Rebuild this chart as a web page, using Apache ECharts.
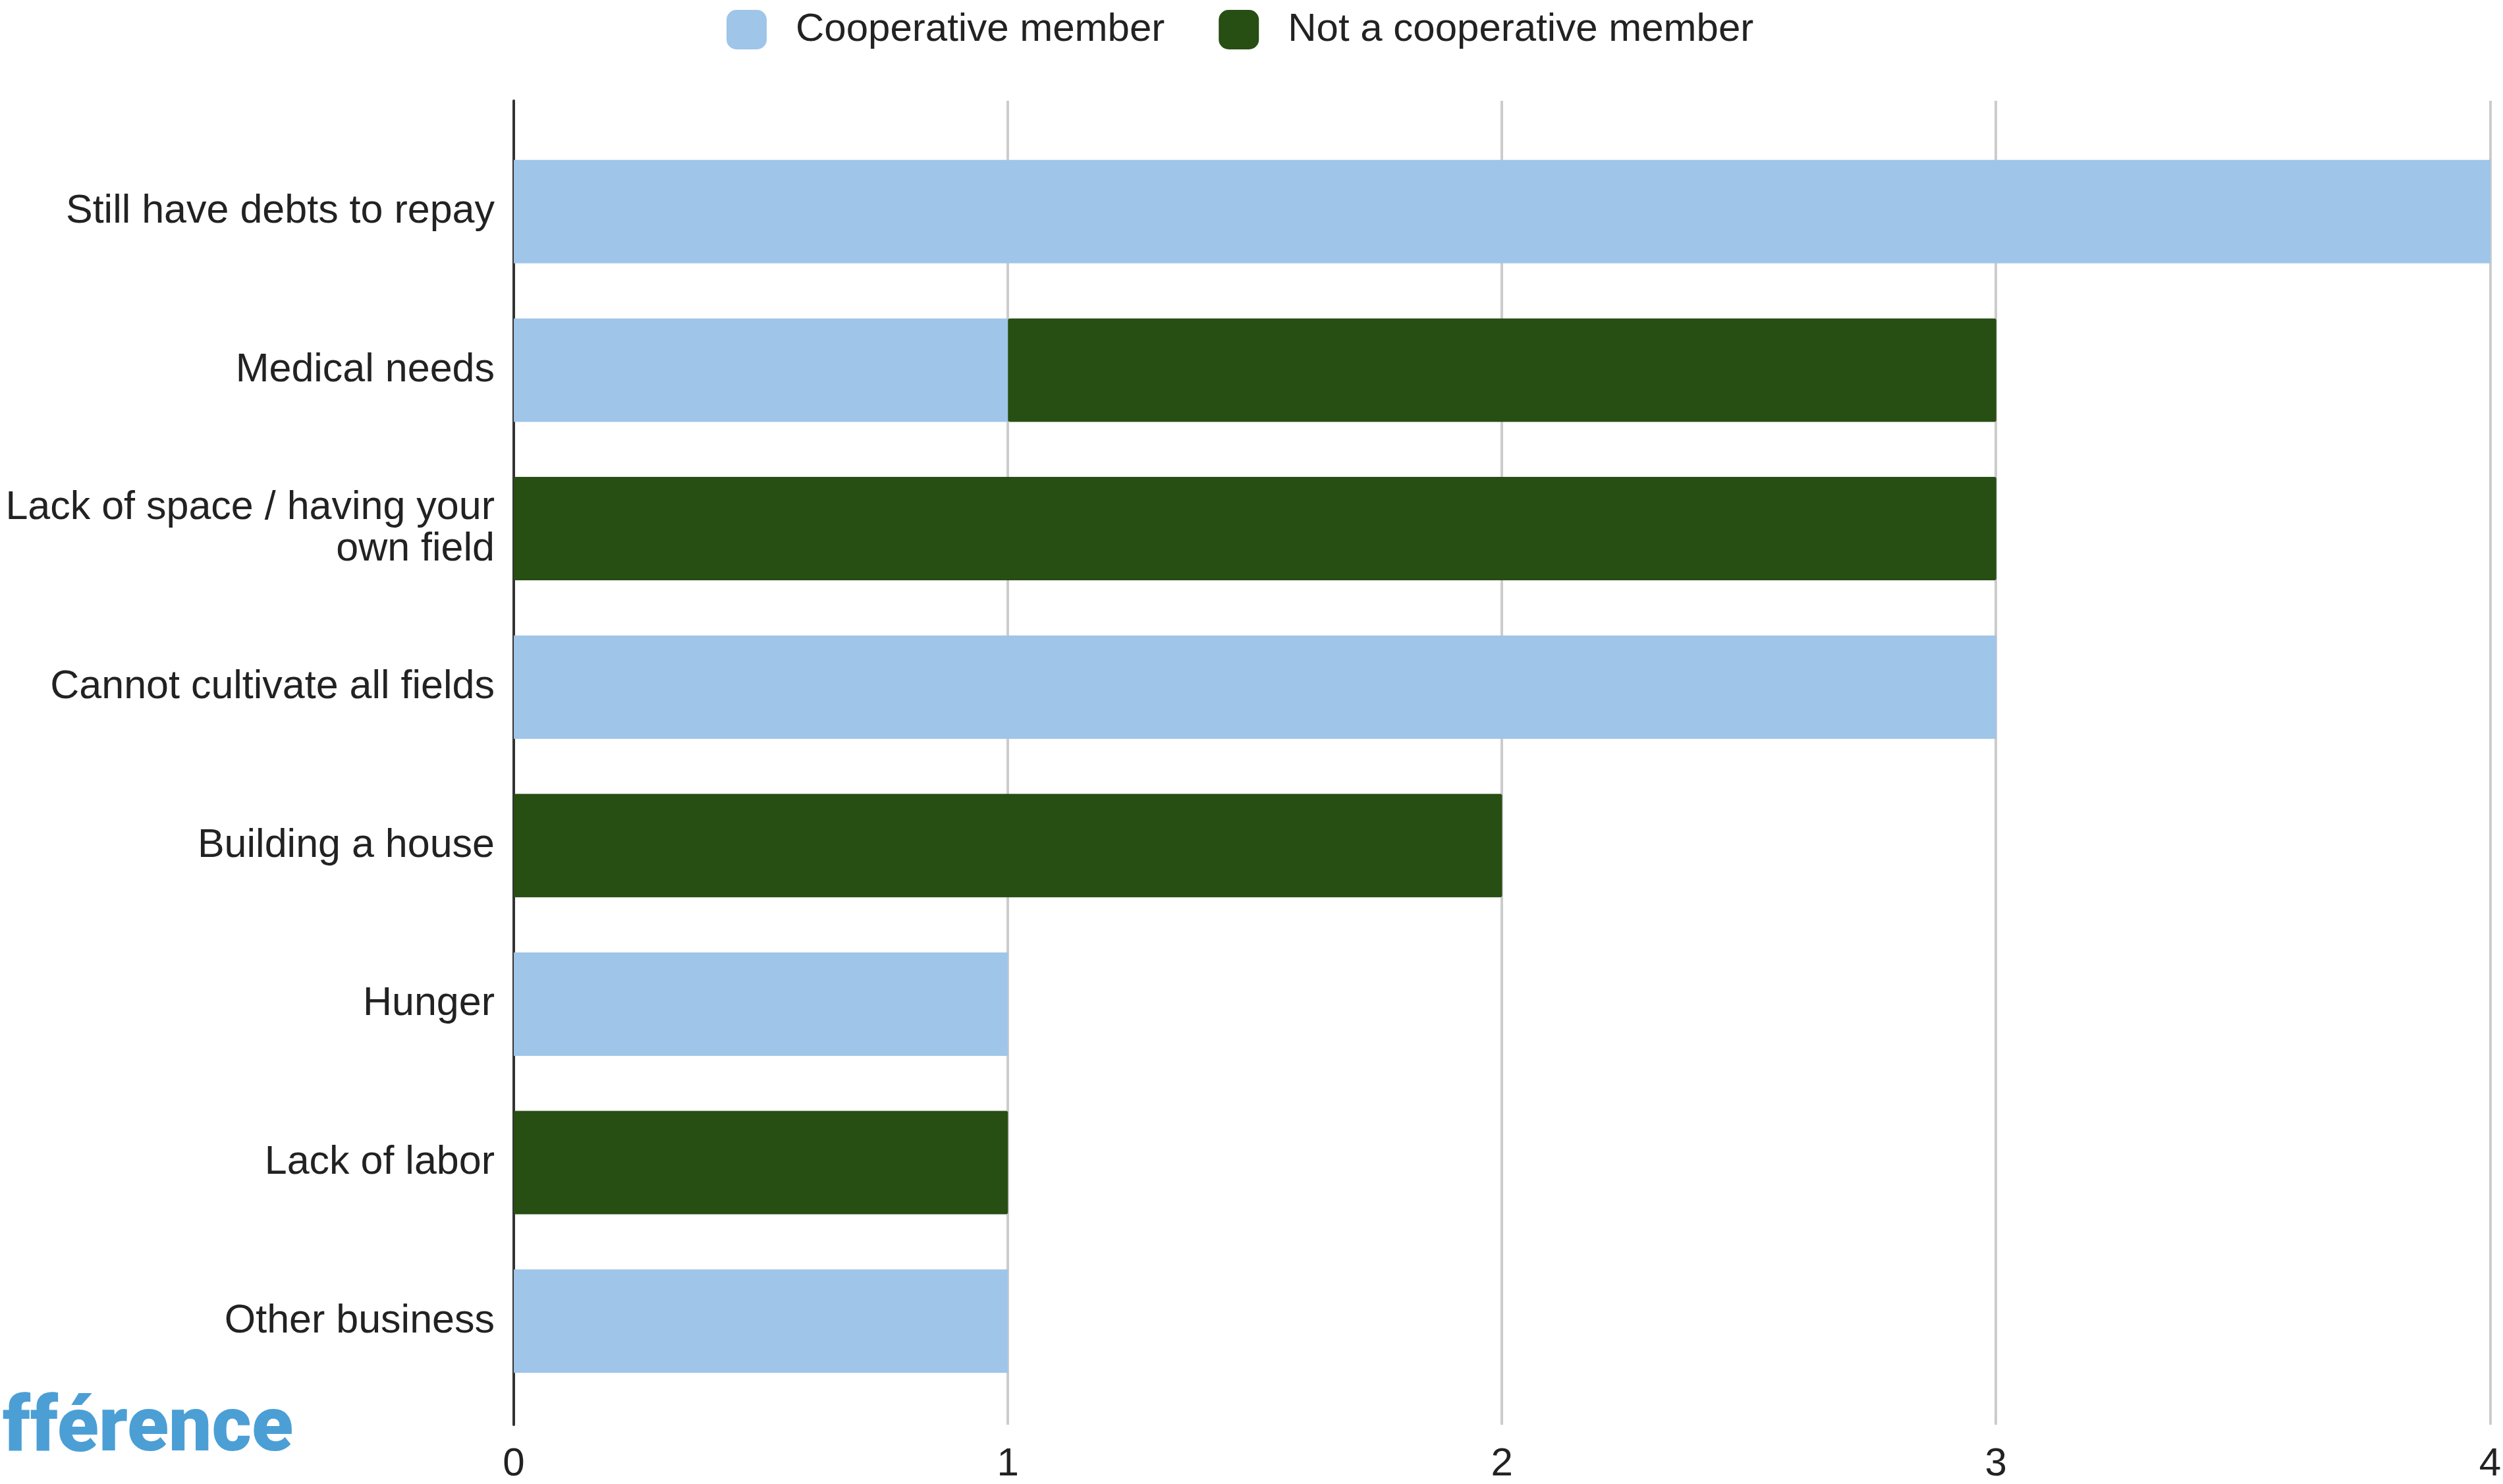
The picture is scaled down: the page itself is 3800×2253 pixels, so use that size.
<!DOCTYPE html>
<html>
<head>
<meta charset="utf-8">
<script src="https://cdn.jsdelivr.net/npm/echarts@6/dist/echarts.min.js"></script>
<style>
  html, body { margin: 0; padding: 0; background: #ffffff; }
  #chart { width: 3800px; height: 2253px; }
</style>
</head>
<body>
<div id="chart"></div>
<script>
const categories = [
  "Still have debts to repay",
  "Medical needs",
  "Lack of space / having your\nown field",
  "Cannot cultivate all fields",
  "Building a house",
  "Hunger",
  "Lack of labor",
  "Other business"
];
const seriesNames = ["Cooperative member", "Not a cooperative member"];
const cooperativeValues = [4, 1, 0, 3, 0, 1, 0, 1];
const nonCooperativeValues = [0, 2, 3, 0, 2, 0, 1, 0];
const xTicks = [0, 1, 2, 3, 4];

const FONT = '"Liberation Sans", Arial, sans-serif';
const chart = echarts.init(document.getElementById('chart'), null, { renderer: 'canvas' });

chart.setOption({
  backgroundColor: '#ffffff',
  animation: false,
  textStyle: { fontFamily: FONT },
  legend: {
    data: seriesNames,
    left: 1098,
    top: 10,
    itemWidth: 61,
    itemHeight: 60,
    itemGap: 82,
    icon: 'roundRect',
    textStyle: { fontSize: 60, color: '#222222', fontFamily: FONT, padding: [0, 0, 0, 39] }
  },
  grid: [
    { left: 780, right: 19, top: 201, bottom: 127, containLabel: false },
    { left: 780, right: 19, top: 153, bottom: 89, containLabel: false }
  ],
  xAxis: [
    { type: 'value', gridIndex: 0, min: xTicks[0], max: xTicks[xTicks.length - 1], interval: 1, show: false },
    {
      type: 'value', gridIndex: 1, min: xTicks[0], max: xTicks[xTicks.length - 1], interval: 1,
      axisLine: { show: false },
      axisTick: { show: false },
      splitLine: { show: true, lineStyle: { color: '#cccccc', width: 4 } },
      axisLabel: { fontSize: 60, color: '#222222', margin: 30, fontFamily: FONT }
    }
  ],
  yAxis: [
    {
      type: 'category', gridIndex: 0, data: categories, inverse: true,
      axisLine: { show: false },
      axisTick: { show: false },
      splitLine: { show: false },
      axisLabel: { fontSize: 61, color: '#222222', margin: 29, lineHeight: 63, align: 'right', fontFamily: FONT }
    },
    {
      type: 'value', gridIndex: 1, min: 0, max: 1,
      axisLine: { show: true, onZero: false, lineStyle: { color: '#333333', width: 4 } },
      axisTick: { show: false },
      axisLabel: { show: false },
      splitLine: { show: false }
    }
  ],
  series: [
    {
      name: seriesNames[0], type: 'bar', stack: 'total',
      xAxisIndex: 0, yAxisIndex: 0,
      data: cooperativeValues,
      barWidth: 157,
      itemStyle: { color: '#9fc5e8' }
    },
    {
      name: seriesNames[1], type: 'bar', stack: 'total',
      xAxisIndex: 0, yAxisIndex: 0,
      data: nonCooperativeValues,
      barWidth: 157,
      itemStyle: { color: '#274e13', borderRadius: 3 }
    }
  ],
  graphic: [
    {
      type: 'text',
      left: 4,
      top: 2115,
      z: 10,
      style: {
        text: 'fférence',
        fontSize: 116,
        fontWeight: 900,
        fontFamily: 'Roboto, "Open Sans", sans-serif',
        fill: '#4b9fd5'
      }
    }
  ]
});
</script>
</body>
</html>
